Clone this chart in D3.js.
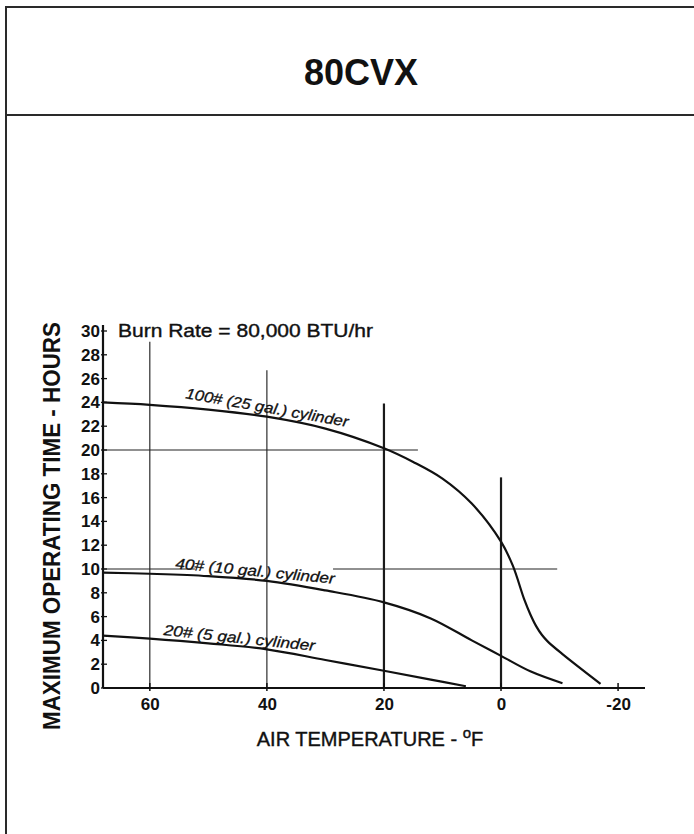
<!DOCTYPE html>
<html>
<head>
<meta charset="utf-8">
<script src="https://cdn.jsdelivr.net/npm/d3@7"></script>
<style>
  body { margin: 0; background: #fff; }
  svg { display: block; }
  text { font-family: "Liberation Sans", Arial, Helvetica, sans-serif; fill: #111; }
</style>
</head>
<body>
<svg id="chart" width="694" height="834"></svg>
<script>
// chart data
var modelName = "80CVX";
var burnRate = "Burn Rate = 80,000 BTU/hr";

var xTicks = [60, 40, 20, 0, -20];
var yTicks = [0, 2, 4, 6, 8, 10, 12, 14, 16, 18, 20, 22, 24, 26, 28, 30];

// 100# (25 gal.) cylinder
var temps100 = [68, 60, 50, 40, 30, 20, 15, 10, 5, 0, -2, -4, -5, -6, -7, -8, -10.5, -17];
var hours100 = [24.0, 23.8, 23.4, 22.8, 21.8, 20.15, 19.0, 17.6, 15.5, 12.3, 10.3, 7.4, 6.2, 5.2, 4.45, 3.9, 2.85, 0.35];

// 40# (10 gal.) cylinder
var temps40 = [68, 60, 50, 40, 30, 20, 12, 5, 0, -5, -10.5];
var hours40 = [9.7, 9.6, 9.4, 9.0, 8.2, 7.2, 5.85, 4.0, 2.7, 1.4, 0.4];

// 20# (5 gal.) cylinder
var temps20 = [68, 60, 50, 40, 30, 20, 12, 6];
var hours20 = [4.4, 4.15, 3.75, 3.25, 2.35, 1.45, 0.7, 0.15];

var curveLabels = ["100# (25 gal.) cylinder", "40# (10 gal.) cylinder", "20# (5 gal.) cylinder"];

// reading guides drawn on the chart
var guideTemps = [60, 40, 20, 0];
var guideTops = [29.1, 26.7, 23.9, 17.7];
var guideHeavy = [false, false, true, true];
var hGuideValues = [20, 10, 10];
var hGuideFrom = [68, 68, 28.7];
var hGuideTo = [14.2, 52.3, -9.6];

//layout variables (window.top is read only, so no "top" here)
var svg = d3.select("#chart");
var plotLeft = 103, plotRight = 645, plotBottom = 688, plotTop = 331;

var x = d3.scaleLinear().domain([68, -24.6]).range([plotLeft, plotRight]);
var y = d3.scaleLinear().domain([0, 30]).range([plotBottom, plotTop]);

// frame and title box
svg.append("rect")
    .attr("x", 6).attr("y", 7)
    .attr("width", 700).attr("height", 840)
    .attr("fill", "none")
    .attr("stroke", "#2a2a2a")
    .attr("stroke-width", 2);
svg.append("line")
    .attr("x1", 6).attr("x2", 700)
    .attr("y1", 115).attr("y2", 115)
    .attr("stroke", "#2a2a2a")
    .attr("stroke-width", 2);
svg.append("text")
    .attr("x", 361).attr("y", 85)
    .attr("text-anchor", "middle")
    .attr("font-size", 36)
    .attr("font-weight", "bold")
    .text(modelName);

// vertical guides
guideTemps.forEach(function(t, i){
    svg.append("line")
        .attr("x1", x(t)).attr("x2", x(t))
        .attr("y1", y(guideTops[i])).attr("y2", y(0))
        .attr("stroke", "#1a1a1a")
        .attr("stroke-width", guideHeavy[i] ? 2.2 : 1.1);
});

// horizontal guides
hGuideValues.forEach(function(v, i){
    svg.append("line")
        .attr("x1", x(hGuideFrom[i])).attr("x2", x(hGuideTo[i]))
        .attr("y1", y(v)).attr("y2", y(v))
        .attr("stroke", "#222")
        .attr("stroke-width", 1.2);
});

// axes
var xAxis = d3.axisBottom(x).tickValues(xTicks).tickSize(0).tickPadding(10)
    .tickFormat(function(d){ return d < 0 ? "-" + Math.abs(d) : d; });
var yAxis = d3.axisLeft(y).tickValues(yTicks).tickSize(0).tickPadding(3);

var gx = svg.append("g").attr("transform", "translate(0," + plotBottom + ")").call(xAxis);
var gy = svg.append("g").attr("transform", "translate(" + plotLeft + ",0)").call(yAxis);
gx.select(".domain").remove();
gy.select(".domain").remove();

[gx, gy].forEach(function(g){
    g.selectAll("text")
        .attr("font-size", 17)
        .attr("font-weight", "bold")
        .attr("fill", "#111")
        .style("font-family", "'Liberation Sans', Arial, sans-serif");
});

svg.append("line")
    .attr("x1", plotLeft).attr("x2", plotRight)
    .attr("y1", plotBottom).attr("y2", plotBottom)
    .attr("stroke", "#111").attr("stroke-width", 2.2);
svg.append("line")
    .attr("x1", plotLeft).attr("x2", plotLeft)
    .attr("y1", plotBottom).attr("y2", plotTop - 6)
    .attr("stroke", "#111").attr("stroke-width", 2.2);

// small tick marks crossing the axes
svg.selectAll(".ytick").data(yTicks).enter().append("line")
    .attr("class", "ytick")
    .attr("x1", plotLeft - 2).attr("x2", plotLeft + 4)
    .attr("y1", function(d){ return y(d); }).attr("y2", function(d){ return y(d); })
    .attr("stroke", "#111").attr("stroke-width", 1.3);
svg.selectAll(".xtick").data(xTicks).enter().append("line")
    .attr("class", "xtick")
    .attr("x1", function(d){ return x(d); }).attr("x2", function(d){ return x(d); })
    .attr("y1", plotBottom - 5).attr("y2", plotBottom + 3)
    .attr("stroke", "#111").attr("stroke-width", 1.5);

// axis titles
svg.append("text")
    .attr("transform", "translate(60,526) rotate(-90)")
    .attr("text-anchor", "middle")
    .attr("font-size", 23)
    .attr("font-weight", "bold")
    .attr("textLength", 408)
    .attr("lengthAdjust", "spacingAndGlyphs")
    .text("MAXIMUM OPERATING TIME - HOURS");

var xt = svg.append("text")
    .attr("x", 370).attr("y", 746)
    .attr("text-anchor", "middle")
    .attr("font-size", 20)
    .attr("stroke", "#111")
    .attr("stroke-width", 0.4);
xt.append("tspan").text("AIR TEMPERATURE - ");
xt.append("tspan").attr("dy", -8).attr("font-size", 15).text("o");
xt.append("tspan").attr("dy", 8).text("F");

svg.append("text")
    .attr("x", 118).attr("y", 337)
    .attr("font-size", 19)
    .attr("stroke", "#111")
    .attr("stroke-width", 0.4)
    .attr("textLength", 255)
    .attr("lengthAdjust", "spacingAndGlyphs")
    .text(burnRate);

// the curves
var line = d3.line()
    .x(function(d){ return x(d[0]); })
    .y(function(d){ return y(d[1]); })
    .curve(d3.curveCatmullRom.alpha(0.5));

[[temps100, hours100], [temps40, hours40], [temps20, hours20]].forEach(function(s){
    svg.append("path")
        .datum(d3.zip(s[0], s[1]))
        .attr("d", line)
        .attr("fill", "none")
        .attr("stroke", "#111")
        .attr("stroke-width", 2.2);
});

// curve labels, placed in data space
var labelTemps = [54.0, 55.7, 57.7];
var labelHours = [24.35, 10.05, 4.45];
var labelAngles = [10, 5.5, 6];
var labelLengths = [165, 160, 152];
curveLabels.forEach(function(t, i){
    svg.append("text")
        .attr("transform", "translate(" + x(labelTemps[i]) + "," + y(labelHours[i]) + ") rotate(" + labelAngles[i] + ")")
        .attr("font-size", 15)
        .attr("font-style", "italic")
        .attr("stroke", "#111")
        .attr("stroke-width", 0.3)
        .attr("textLength", labelLengths[i])
        .attr("lengthAdjust", "spacingAndGlyphs")
        .text(t);
});
</script>
</body>
</html>
